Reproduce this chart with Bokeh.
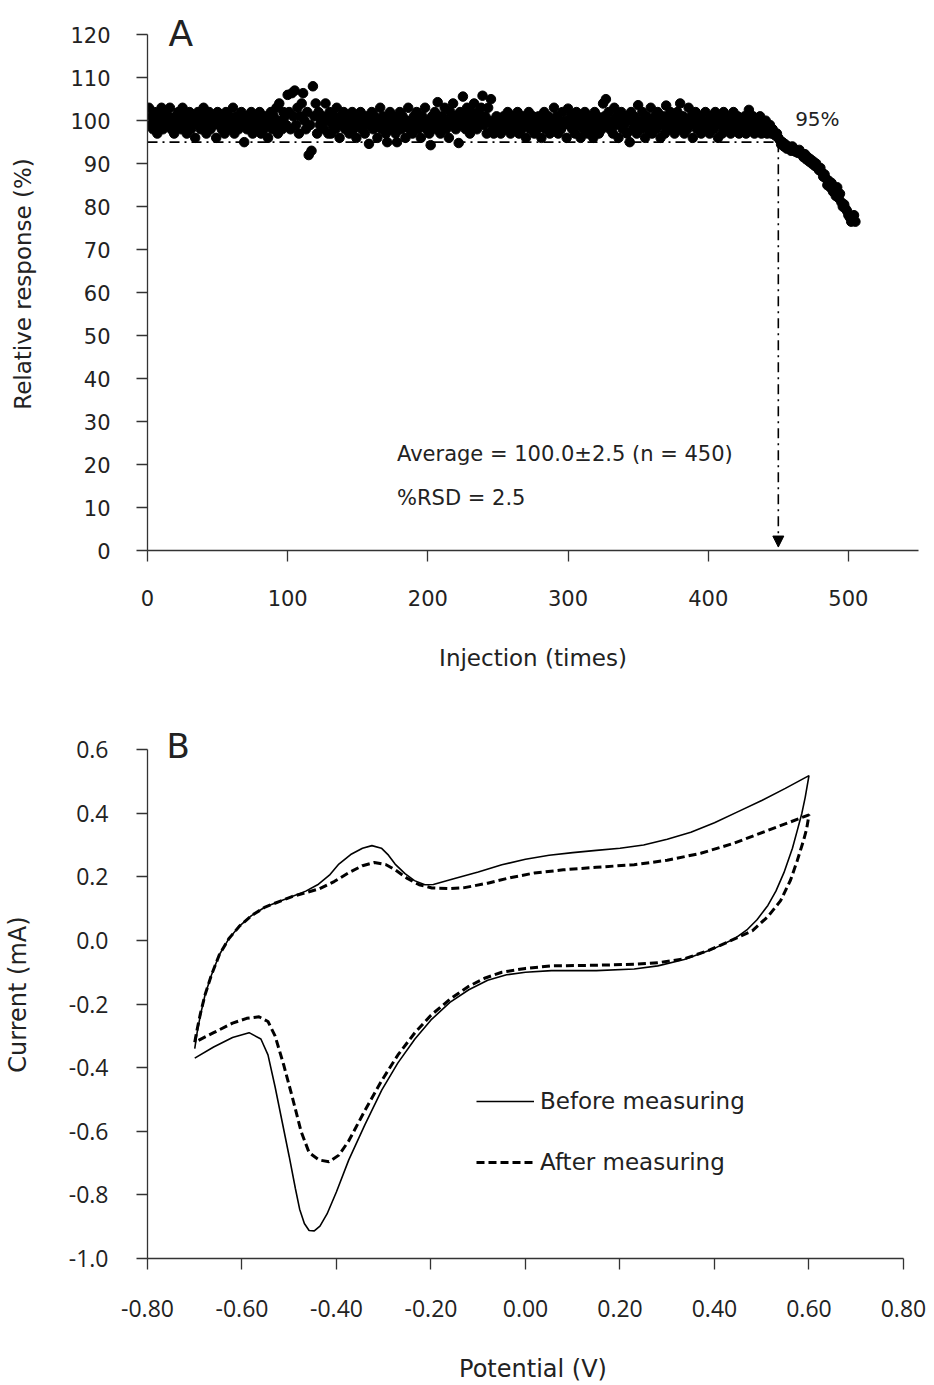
from bokeh.plotting import figure
from bokeh.layouts import column
from bokeh.models import (Range1d, FixedTicker, Label, Arrow, NormalHead, Legend,
                          LegendItem, NumeralTickFormatter)
from bokeh.embed import file_html
from bokeh.resources import INLINE

# ---------------- Panel A data ----------------
response = [
    103, 99, 101, 98, 102, 100, 97, 101, 99, 103, 98, 100, 102, 99, 101, 103, 98, 100, 97, 101, 99, 102, 100, 98, 103,
    99, 101, 97, 100, 102, 98, 99, 101, 96, 100, 102, 99, 98, 101, 103, 100, 97, 99, 102, 98, 101, 99, 100, 96, 102,
    99, 101, 98, 100, 97, 102, 99, 101, 98, 100, 103, 97, 99, 101, 98, 100, 102, 99, 95, 101, 98, 100, 99, 102, 97,
    100, 98, 101, 99, 102, 97, 100, 98, 101, 99, 96, 100, 102, 98, 101, 99, 103, 97, 104, 100, 98, 102, 101, 99, 106,
    102, 98, 106.4, 101, 107, 99, 103, 97, 101, 104, 106.4, 100, 98, 102, 92, 99, 93, 108, 101, 104, 97, 102, 99, 100, 101,
    98, 104, 100, 97, 102, 97, 99, 101, 98, 103, 100, 96, 101, 99, 102, 98, 100, 101, 97, 99, 102, 98, 100, 96, 101,
    99, 102, 98, 100, 97, 101, 99, 94.6, 100, 102, 98, 101, 99, 96, 100, 103, 98, 101, 99, 97, 95, 100, 102, 98, 101,
    99, 97, 95, 100, 102, 98, 101, 99, 96, 100, 103, 98, 100, 97, 101, 99, 102, 98, 100, 96, 101, 99, 103, 98, 100,
    97, 94.3, 101, 99, 102, 98, 104.3, 100, 97, 101, 99, 103, 98, 100, 96, 102, 99, 104, 101, 98, 100, 94.8, 102, 99, 105.6,
    101, 98, 103, 100, 97, 102, 99, 104, 101, 98, 102, 100, 103, 105.8, 99, 101, 97, 103, 100, 105, 98, 97, 99, 101, 98,
    100, 97, 99, 101, 98, 100, 102, 99, 97, 101, 98, 100, 99, 102, 97, 100, 98, 101, 99, 96, 100, 102, 98, 99, 101,
    97, 100, 98, 101, 99, 96, 100, 102, 98, 99, 101, 97, 100, 98, 103, 99, 101, 97, 100, 98, 102, 99, 100, 96, 102.8,
    99, 101, 98, 100, 97, 102, 99, 101, 96, 100, 98, 102, 99, 97, 101, 100, 98, 96, 102, 99, 101, 97, 100, 98, 104,
    101, 105, 99, 102, 98, 100, 97, 103, 99, 101, 96, 100, 102, 98, 99, 101, 97, 100, 95, 102, 98, 101, 99, 97, 103.6,
    100, 98, 102, 99, 96, 101, 98, 100, 103, 97, 99, 101, 98, 102, 100, 96, 99, 101, 97, 103.5, 100, 98, 102, 99, 101,
    97, 100, 102, 98, 104, 99, 101, 97, 100, 98, 103, 99, 101, 96, 100, 102, 98, 99, 101, 97, 100, 98, 102, 99, 100,
    97, 101, 99, 98, 102, 100, 96, 101, 99, 97, 102, 100, 98, 101, 99, 97, 100, 102, 98, 99, 101, 97, 100, 98, 99,
    101, 97, 100, 102.5, 99, 98, 101, 97, 100, 99, 98, 101, 97, 99, 98, 100, 97, 98, 99, 97, 98, 97, 96.5, 97, 96,
    95.5, 94.5, 95, 94, 94.5, 93.5, 94, 93.8, 93, 94, 93.5, 92.8, 93, 92.5, 93.2, 92.5, 92, 91.5, 92.2, 91, 91.5, 90.5, 91, 90, 90.5,
    89.5, 90, 89, 88.5, 89, 88, 87, 87.5, 86.5, 85, 86, 84.5, 85.5, 83.5, 84, 82.5, 84.5, 82, 83, 81, 80, 80.5, 79.5, 79, 78,
    77.5, 76.5, 77, 78, 76.5,
]
injection = list(range(1, len(response) + 1))
threshold = 95
cutoff = 450
a_xticks = [0, 100, 200, 300, 400, 500]
a_yticks = [0, 10, 20, 30, 40, 50, 60, 70, 80, 90, 100, 110, 120]

# ---------------- Panel B data ----------------
before_v = [-0.700, -0.695, -0.688, -0.678, -0.665, -0.648, -0.628, -0.606, -0.580, -0.551, -0.520, -0.494,
            -0.465, -0.440, -0.415, -0.395, -0.370, -0.345, -0.325, -0.305, -0.290, -0.276, -0.255, -0.235,
            -0.213, -0.195, -0.150, -0.100, -0.050, 0.000, 0.050, 0.100, 0.150, 0.200, 0.250, 0.300, 0.350,
            0.400, 0.450, 0.500, 0.550, 0.600,
            0.592, 0.585, 0.576, 0.565, 0.547, 0.530, 0.513, 0.490, 0.470, 0.442, 0.400, 0.336, 0.280, 0.230,
            0.150, 0.055, 0.000, -0.040, -0.080, -0.120, -0.160, -0.200, -0.234, -0.270, -0.304, -0.340,
            -0.374, -0.400, -0.420, -0.435, -0.447, -0.458, -0.468, -0.478, -0.487, -0.500, -0.515, -0.530,
            -0.545, -0.560, -0.585, -0.620, -0.660, -0.700]
before_i = [-0.340, -0.290, -0.235, -0.170, -0.110, -0.045, 0.005, 0.044, 0.078, 0.105, 0.123, 0.138,
            0.155, 0.175, 0.205, 0.240, 0.270, 0.290, 0.298, 0.290, 0.268, 0.240, 0.210, 0.188,
            0.175, 0.176, 0.195, 0.215, 0.238, 0.255, 0.268, 0.276, 0.283, 0.290, 0.300, 0.318, 0.340,
            0.370, 0.405, 0.440, 0.478, 0.518,
            0.450, 0.400, 0.350, 0.290, 0.213, 0.155, 0.110, 0.065, 0.035, 0.005, -0.025, -0.060, -0.080, -0.090,
            -0.095, -0.095, -0.100, -0.108, -0.125, -0.155, -0.195, -0.250, -0.310, -0.385, -0.470, -0.580,
            -0.690, -0.790, -0.860, -0.898, -0.913, -0.912, -0.890, -0.845, -0.780, -0.680, -0.570, -0.460,
            -0.360, -0.310, -0.290, -0.305, -0.335, -0.370]
after_v = [-0.700, -0.695, -0.688, -0.678, -0.665, -0.648, -0.628, -0.606, -0.580, -0.551, -0.520, -0.494,
           -0.465, -0.437, -0.405, -0.374, -0.345, -0.320, -0.295, -0.276, -0.250, -0.225, -0.198, -0.160,
           -0.129, -0.080, -0.030, 0.019, 0.080, 0.150, 0.230, 0.300, 0.371, 0.440, 0.513, 0.560, 0.600,
           0.595, 0.589, 0.575, 0.561, 0.540, 0.513, 0.480, 0.440, 0.390, 0.336, 0.280, 0.230, 0.150, 0.055,
           0.000, -0.050, -0.085, -0.120, -0.160, -0.200, -0.234, -0.270, -0.304, -0.340, -0.374, -0.395,
           -0.416, -0.437, -0.458, -0.475, -0.494, -0.512, -0.530, -0.545, -0.564, -0.590, -0.620, -0.660, -0.700]
after_i = [-0.320, -0.280, -0.230, -0.170, -0.110, -0.045, 0.005, 0.044, 0.078, 0.105, 0.123, 0.138,
           0.150, 0.162, 0.185, 0.213, 0.235, 0.245, 0.238, 0.222, 0.195, 0.175, 0.165, 0.163,
           0.166, 0.180, 0.198, 0.212, 0.222, 0.230, 0.238, 0.252, 0.274, 0.305, 0.346, 0.372, 0.395,
           0.350, 0.317, 0.250, 0.190, 0.125, 0.075, 0.030, 0.003, -0.030, -0.058, -0.070, -0.075, -0.078, -0.080,
           -0.088, -0.100, -0.118, -0.144, -0.185, -0.235, -0.290, -0.360, -0.440, -0.535, -0.630, -0.675,
           -0.696, -0.690, -0.667, -0.600, -0.490, -0.390, -0.300, -0.255, -0.240, -0.245, -0.260, -0.290, -0.320]
b_xticks = [-0.8, -0.6, -0.4, -0.2, 0.0, 0.2, 0.4, 0.6, 0.8]
b_yticks = [-1.0, -0.8, -0.6, -0.4, -0.2, 0.0, 0.2, 0.4, 0.6]

FONT = "DejaVu Sans"
TICKFONT_B = "Open Sans"
INK = "#222222"
AXIS = "#333333"


def style_axes(p, tick_font, tick_font_size, label_font_size, xstand, ystand, xlab_stand, ylab_stand):
    p.xgrid.visible = False
    p.ygrid.visible = False
    p.outline_line_color = None
    for ax, st, lst in ((p.xaxis[0], xstand, xlab_stand), (p.yaxis[0], ystand, ylab_stand)):
        ax.axis_line_color = AXIS
        ax.axis_line_width = 1.3
        ax.major_tick_line_color = AXIS
        ax.major_tick_line_width = 1.3
        ax.major_tick_out = 11
        ax.major_tick_in = 0
        ax.minor_tick_line_color = None
        ax.major_label_text_font = tick_font
        ax.major_label_text_font_size = tick_font_size
        ax.major_label_text_color = INK
        ax.major_label_standoff = st
        ax.axis_label_text_font = FONT
        ax.axis_label_text_font_size = label_font_size
        ax.axis_label_text_font_style = "normal"
        ax.axis_label_text_color = INK
        ax.axis_label_standoff = lst


# ---------------- Panel A ----------------
pA = figure(width=934, height=690, x_range=Range1d(0, 550), y_range=Range1d(0, 124),
            output_backend="svg", toolbar_location=None,
            min_border_left=146, min_border_right=16, min_border_top=17, min_border_bottom=140,
            x_axis_label="Injection (times)", y_axis_label="Relative response (%)")
pA.xaxis.ticker = FixedTicker(ticks=a_xticks)
pA.yaxis.ticker = FixedTicker(ticks=a_yticks)
pA.yaxis.bounds = (0, 120)
style_axes(pA, FONT, "21px", "23px", 28, 26, 36, 31)

pA.line([0, cutoff], [threshold, threshold], line_color="black", line_width=1.6, line_dash="10 5 2 5")
pA.add_layout(Arrow(x_start=cutoff, y_start=threshold, x_end=cutoff, y_end=0.8,
                    line_color="black", line_width=1.6, line_dash="10 5 2 5",
                    end=NormalHead(size=11, fill_color="black", line_color="black")))
pA.scatter(injection, response, size=9.5, color="black")

pA.add_layout(Label(x=462, y=100.5, text="95%", text_font=FONT, text_font_size="20px",
                    text_color=INK, text_align="left", text_baseline="middle"))
pA.add_layout(Label(x=178, y=22.5, text="Average = 100.0\u00b12.5 (n = 450)", text_font=FONT,
                    text_font_size="21px", text_color=INK, text_align="left", text_baseline="middle"))
pA.add_layout(Label(x=178, y=12.3, text="%RSD = 2.5", text_font=FONT,
                    text_font_size="21px", text_color=INK, text_align="left", text_baseline="middle"))
pA.add_layout(Label(x=15, y=120.3, text="A", text_font=FONT, text_font_size="36px",
                    text_color=INK, text_align="left", text_baseline="middle"))

# ---------------- Panel B ----------------
pB = figure(width=934, height=695, x_range=Range1d(-0.8, 0.8318), y_range=Range1d(-1.0, 0.66),
            output_backend="svg", toolbar_location=None,
            min_border_left=146, min_border_right=16, min_border_top=40, min_border_bottom=126,
            x_axis_label="Potential (V)", y_axis_label="Current (mA)")
pB.xaxis.ticker = FixedTicker(ticks=b_xticks)
pB.yaxis.ticker = FixedTicker(ticks=b_yticks)
pB.xaxis.bounds = (-0.8, 0.8)
pB.yaxis.bounds = (-1.0, 0.6)
pB.xaxis.formatter = NumeralTickFormatter(format="0.00")
pB.yaxis.formatter = NumeralTickFormatter(format="0.0")
style_axes(pB, TICKFONT_B, "23px", "24px", 30, 28, 35, 34)

r1 = pB.line(before_v, before_i, line_color="black", line_width=1.6)
r2 = pB.line(after_v, after_i, line_color="black", line_width=3, line_dash="8 4")

leg = Legend(items=[LegendItem(label="Before measuring", renderers=[r1]),
                    LegendItem(label="After measuring", renderers=[r2])],
             location=(329, 81), orientation="vertical",
             background_fill_alpha=0, border_line_alpha=0,
             label_text_font=FONT, label_text_font_size="23px", label_text_color=INK,
             glyph_width=58, glyph_height=30, label_height=30, spacing=31,
             label_standoff=6, padding=0, margin=0)
pB.add_layout(leg)

pB.add_layout(Label(x=-0.76, y=0.61, text="B", text_font=FONT, text_font_size="34px",
                    text_color=INK, text_align="left", text_baseline="middle"))

layout = column(pA, pB, spacing=0)
open("out.html", "w").write(file_html(layout, INLINE))
